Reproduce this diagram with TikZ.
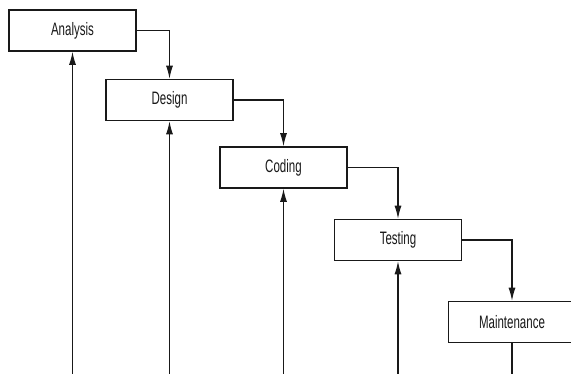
\documentclass[tikz,border=0pt]{standalone}
\usepackage{fontspec}
\newfontfamily\boxfont{Liberation Sans}[FakeStretch=0.64]
\usetikzlibrary{arrows.meta}
\begin{document}
\begin{tikzpicture}[x=1pt,y=-1pt,
  phase/.style={draw=black!90, line width=1.6pt, fill=white,
    minimum width=127pt, minimum height=41pt, inner sep=0pt,
    font=\boxfont\fontsize{18}{20}\selectfont, text=black!90},
  flow/.style={draw=black!90, line width=1.1pt,
    -{Latex[length=13pt,width=7pt]}},
  plain/.style={draw=black!90, line width=1.1pt}]
  \fill[white] (0,0) rectangle (571,374);
  \clip (0,0) rectangle (571,374);
  % the five phases, stepping down to the right
  \node[phase] (A) at (72.5,30.5)  {Analysis};
  \node[phase] (D) at (169.5,100)  {Design};
  \node[phase] (C) at (283.5,167.5) {Coding};
  \node[phase] (T) at (398,240)    {Testing};
  \node[phase] (M) at (512,322)    {Maintenance};
  % baseline below the picture for the return lines
  \coordinate (base) at (0,376);
  % forward flow from each phase to the next
  \draw[flow] (A.east) -| (D.north);
  \draw[flow] (D.east) -| (C.north);
  \draw[flow] (C.east) -| (T.north);
  \draw[flow] (T.east) -| (M.north);
  % return lines rising into each phase
  \draw[flow] (A.south |- base) -- (A.south);
  \draw[flow] (D.south |- base) -- (D.south);
  \draw[flow] (C.south |- base) -- (C.south);
  \draw[flow] (T.south |- base) -- (T.south);
  \draw[plain] (M.south) -- (M.south |- base);
\end{tikzpicture}
\end{document}
